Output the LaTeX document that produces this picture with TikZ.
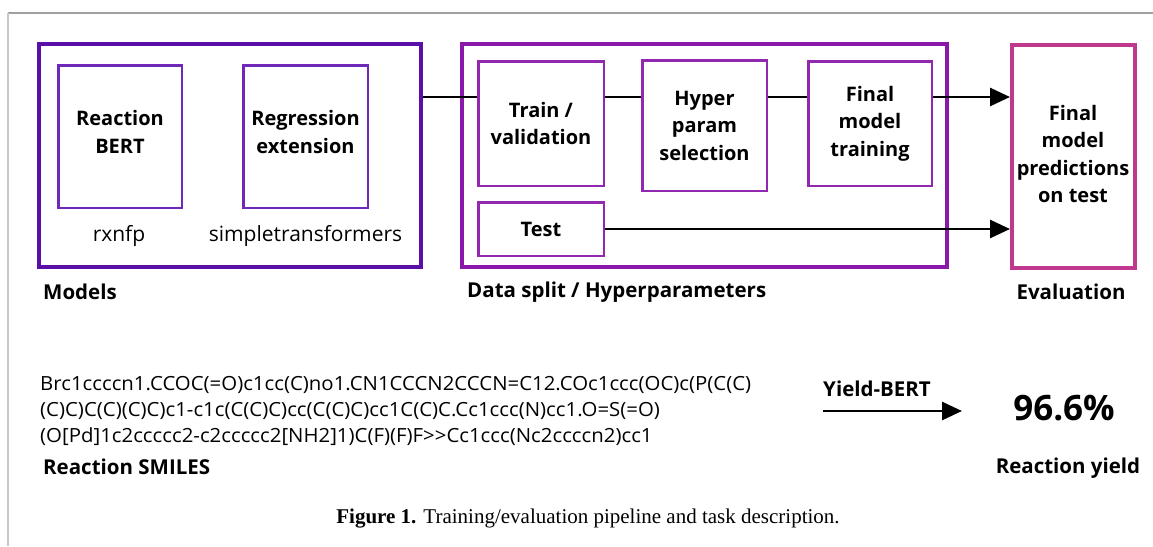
\documentclass[tikz,border=0pt]{standalone}
\usepackage{fontspec}
\setmainfont{Open Sans}
\newfontfamily\capfont{Liberation Serif}
\newfontfamily\smfont[FakeStretch=1.045]{Open Sans}
\usetikzlibrary{arrows.meta}
\definecolor{mpurple}{RGB}{90,16,168}
\definecolor{mpurplein}{RGB}{112,40,184}
\definecolor{dpurple}{RGB}{138,24,168}
\definecolor{dpurplein}{RGB}{145,40,175}
\definecolor{epink}{RGB}{192,56,142}
\definecolor{topgray}{RGB}{160,160,160}
\definecolor{leftgray}{RGB}{200,200,200}
\tikzset{
  outerbox/.style={draw=#1, line width=4pt, inner sep=0pt},
  innerbox/.style={draw=#1, line width=2.5pt, inner sep=0pt, align=center,
    font=\fontsize{20}{27.5}\selectfont\bfseries},
  boxtxt/.style={align=center, inner sep=0pt, font=\fontsize{20}{27.5}\selectfont\bfseries},
  lbl/.style={inner sep=0pt, font=\fontsize{20.5}{24}\selectfont\bfseries},
  sub/.style={inner sep=0pt, font=\fontsize{21}{24}\selectfont},
  conn/.style={line width=2.8pt, black},
  tip/.style={-{Triangle[length=20pt,width=18pt]}},
  smiles/.style={inner sep=0pt, anchor=west, font=\fontsize{19.5}{26}\smfont}
}
\begin{document}
\begin{tikzpicture}[x=1pt,y=-1pt]
\useasboundingbox (0,0) rectangle (1153,546);
% frame
\draw[topgray, line width=1.5pt] (8,13) -- (1153,13);
\draw[leftgray, line width=2pt] (8,13) -- (8,546);

% Models
\node[outerbox=mpurple, minimum width=382pt, minimum height=223pt] (models) at (230,155.5) {};
\node[innerbox=mpurplein, minimum width=123.5pt, minimum height=142.5pt] (rb) at (120,136.5) {};
\node[innerbox=mpurplein, minimum width=124.5pt, minimum height=142.5pt] (re) at (305.5,136.5) {};
\node[boxtxt] (rbt) at (120,132) {Reaction\\BERT};
\node[boxtxt] (ret) at (305.5,132) {Regression\\extension};
\node[sub] (rx) at (119,236) {rxnfp};
\node[sub] (st) at (305.5,236) {simpletransformers};
\node[lbl, anchor=west] (ml) at (43,292) {Models};

% Data split
\node[outerbox=dpurple, minimum width=485pt, minimum height=223pt] (data) at (704.5,155.5) {};
\node[innerbox=dpurplein, minimum width=125.5pt, minimum height=124.5pt] (tv) at (541,123.5) {Train /\\validation};
\node[innerbox=dpurplein, minimum width=124.5pt, minimum height=130.5pt] (hp) at (704.5,125.5) {Hyper\\param\\selection};
\node[innerbox=dpurplein, minimum width=123.5pt, minimum height=124.5pt] (ft) at (870,123.5) {Final\\model\\training};
\node[innerbox=dpurplein, minimum width=125.5pt, minimum height=53.5pt] (test) at (541,229) {Test};
\node[lbl, anchor=west] (dl) at (467,292) {Data split / Hyperparameters};

% Evaluation
\node[outerbox=epink, minimum width=123pt, minimum height=223pt] (eval) at (1073.5,156.5) {};
\node[boxtxt] (evt) at (1073,154) {Final\\model\\predictions\\on test};
\node[lbl] (el) at (1071,292) {Evaluation};

% connectors
\coordinate (r1) at (0,97);
\coordinate (r2) at (0,229);
\draw[conn] (models.east |- r1) -- (tv.west |- r1);
\draw[conn] (tv.east |- r1) -- (hp.west |- r1);
\draw[conn] (hp.east |- r1) -- (ft.west |- r1);
\draw[conn, tip] (ft.east |- r1) -- (eval.west |- r1);
\draw[conn, tip] (test.east |- r2) -- (eval.west |- r2);

% task description
\node[smiles] (s1) at (40,385) {Brc1ccccn1.CCOC(=O)c1cc(C)no1.CN1CCCN2CCCN=C12.COc1ccc(OC)c(P(C(C)};
\node[smiles] (s2) at (40,411) {(C)C)C(C)(C)C)c1-c1c(C(C)C)cc(C(C)C)cc1C(C)C.Cc1ccc(N)cc1.O=S(=O)};
\node[smiles] (s3) at (40,437) {(O[Pd]1c2ccccc2-c2ccccc2[NH2]1)C(F)(F)F>>Cc1ccc(Nc2ccccn2)cc1};
\node[lbl, anchor=west] (sl) at (43,467) {Reaction SMILES};

\coordinate (a0) at (823,411);
\coordinate (a1) at (962,411);
\draw[conn, tip] (a0) -- (a1);
\node[lbl, anchor=west] (yb) at (823,389) {Yield-BERT};
\node[inner sep=0pt, font=\fontsize{35}{38}\selectfont\bfseries] (yv) at (1064,408) {96.6\%};
\node[lbl] (yl) at (1068,468) {Reaction yield};

% caption
\node[inner sep=0pt, font=\fontsize{21}{24}\capfont] (cap) at (588,519) {\textbf{Figure 1.} Training/evaluation pipeline and task description.};
\end{tikzpicture}
\end{document}
